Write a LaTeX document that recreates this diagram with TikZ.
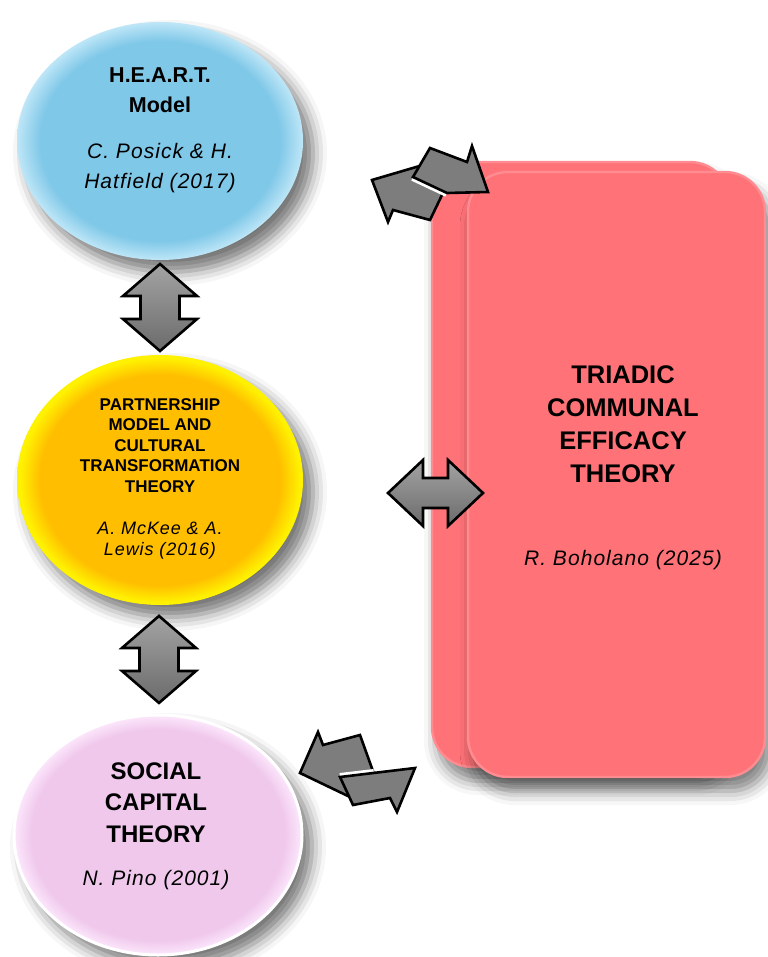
\documentclass[tikz,border=0pt]{standalone}
\usepackage{fontspec}
\setmainfont{Liberation Sans}
\newfontfamily\citefont[LetterSpace=5]{Liberation Sans}
\usetikzlibrary{shapes.geometric, positioning, calc, shadows.blur}
\definecolor{heartblue}{RGB}{128,200,232}
\definecolor{heartrim}{RGB}{190,230,247}
\definecolor{partnerorange}{RGB}{255,190,0}
\definecolor{partneryellow}{RGB}{255,242,0}
\definecolor{socialpink}{RGB}{240,200,236}
\definecolor{socialrim}{RGB}{252,232,252}
\definecolor{triadred}{RGB}{255,115,120}
\definecolor{triadrim}{RGB}{255,140,145}
\definecolor{arrowgray}{RGB}{125,125,125}
\pgfdeclareradialshading{heartshade}{\pgfpoint{0bp}{0bp}}{color(0bp)=(heartblue); color(21bp)=(heartblue); color(25bp)=(heartrim); color(50bp)=(heartrim)}
\pgfdeclareradialshading{partnershade}{\pgfpoint{0bp}{0bp}}{color(0bp)=(partnerorange); color(21bp)=(partnerorange); color(24.5bp)=(partneryellow); color(50bp)=(partneryellow)}
\pgfdeclareradialshading{socialshade}{\pgfpoint{0bp}{0bp}}{color(0bp)=(socialpink); color(22bp)=(socialpink); color(25bp)=(socialrim); color(50bp)=(socialrim)}
\tikzset{
	theory/.style={ellipse, inner sep=0pt, blur shadow={shadow xshift=5pt, shadow yshift=-6pt, shadow blur radius=7pt, shadow opacity=55}},
	card/.style={rectangle, rounded corners=20pt, inner sep=0pt, fill=triadred, draw=triadrim, line width=1.2pt, minimum width=148.5pt, minimum height=302.5pt, blur shadow={shadow xshift=3pt, shadow yshift=-7pt, shadow blur radius=7pt, shadow opacity=50}},
	title/.style={align=center, inner sep=0pt, anchor=north},
	cite/.style={align=center, inner sep=0pt, anchor=north},
	twoway/.style={draw=black, line width=1.3pt, line join=miter, top color=black!36, bottom color=black!58},
	swap/.style={draw=black, line width=1.3pt, line join=miter, fill=arrowgray},
	gap/.style={draw=white, line width=4pt}
}

\begin{document}
\begin{tikzpicture}[x=0.5pt, y=-0.5pt]
	\useasboundingbox (0,0) rectangle (767,957);

	% Triadic communal efficacy theory (two stacked cards)
	\node[card, minimum width=149pt] (back) at (581,464.5) {};
	\node[card] (triad) at (616.5,474.5) {};
	\node[title, font=\bfseries\fontsize{12.75}{16.5}\selectfont] (triad-title) at (623,365) {TRIADIC\\COMMUNAL\\EFFICACY\\THEORY};
	\node[cite, font=\citefont\itshape\fontsize{10.5}{15}\selectfont] (triad-cite) at (623,550) {R. Boholano (2025)};

	% H.E.A.R.T. model
	\node[theory, shading=heartshade, minimum width=143pt, minimum height=119pt] (heart) at (160,141) {};
	\node[title, font=\bfseries\fontsize{10.75}{15}\selectfont] (heart-title) at (160,67) {H.E.A.R.T.\\Model};
	\node[cite, font=\citefont\itshape\fontsize{10.5}{15}\selectfont] (heart-cite) at (160,143) {C. Posick \& H.\\Hatfield (2017)};

	% Partnership model
	\node[theory, shading=partnershade, minimum width=143pt, minimum height=125pt] (partner) at (160,480) {};
	\node[title, font=\bfseries\fontsize{8.5}{10.25}\selectfont] (partner-title) at (160,398) {PARTNERSHIP\\MODEL AND\\CULTURAL\\TRANSFORMATION\\THEORY};
	\node[cite, font=\citefont\itshape\fontsize{9}{10.5}\selectfont] (partner-cite) at (160,522) {A. McKee \& A.\\Lewis (2016)};

	% Social capital theory
	\node[theory, shading=socialshade, draw=white, line width=1.5pt, minimum width=144pt, minimum height=120pt] (social) at (158,835) {};
	\node[title, font=\bfseries\fontsize{12}{15.75}\selectfont] (social-title) at (156,762) {SOCIAL\\CAPITAL\\THEORY};
	\node[cite, font=\citefont\itshape\fontsize{10.5}{15}\selectfont] (social-cite) at (156,870) {N. Pino (2001)};

	% Double arrows
	\coordinate (up) at ($(heart.south)!0.5!(partner.north)$);
	\coordinate (down) at ($(partner.south)!0.5!(social.north)$);
	\coordinate (side) at (435.5,493);
	\draw[twoway, shift={(up)}] (0,-43.5) -- (37,-11.5) -- (19.5,-11.5) -- (19.5,11.5) -- (37,11.5) -- (0,43.5)
		-- (-37,11.5) -- (-19.5,11.5) -- (-19.5,-11.5) -- (-37,-11.5) -- cycle;
	\draw[twoway, shift={(down)}] (0,-43.5) -- (37,-11.5) -- (19.5,-11.5) -- (19.5,11.5) -- (37,11.5) -- (0,43.5)
		-- (-37,11.5) -- (-19.5,11.5) -- (-19.5,-11.5) -- (-37,-11.5) -- cycle;
	\draw[twoway, shift={(side)}] (-47.5,0) -- (-12.5,-33) -- (-12.5,-15) -- (12.5,-15) -- (12.5,-33) -- (47.5,0)
		-- (12.5,33) -- (12.5,15) -- (-12.5,15) -- (-12.5,33) -- cycle;

	% Swap arrows, top
	\draw[swap] (372,180) -- (388,222) -- (393,210) -- (430,220) -- (442,195) -- (440,160) -- cycle;
	\draw[gap] (413,177) -- (447,193);
	\draw[swap] (430,148) -- (467,162) -- (472,146) -- (488,192) -- (447,193) -- (413,177) -- cycle;

	% Swap arrows, bottom
	\draw[swap] (300,773) -- (318,732) -- (323,745) -- (360,735) -- (374,774) -- (350,797) -- cycle;
	\draw[gap] (340,777) -- (374,773);
	\draw[swap] (340,777) -- (415,768) -- (397,812) -- (390,798) -- (353,805) -- cycle;
\end{tikzpicture}
\end{document}
